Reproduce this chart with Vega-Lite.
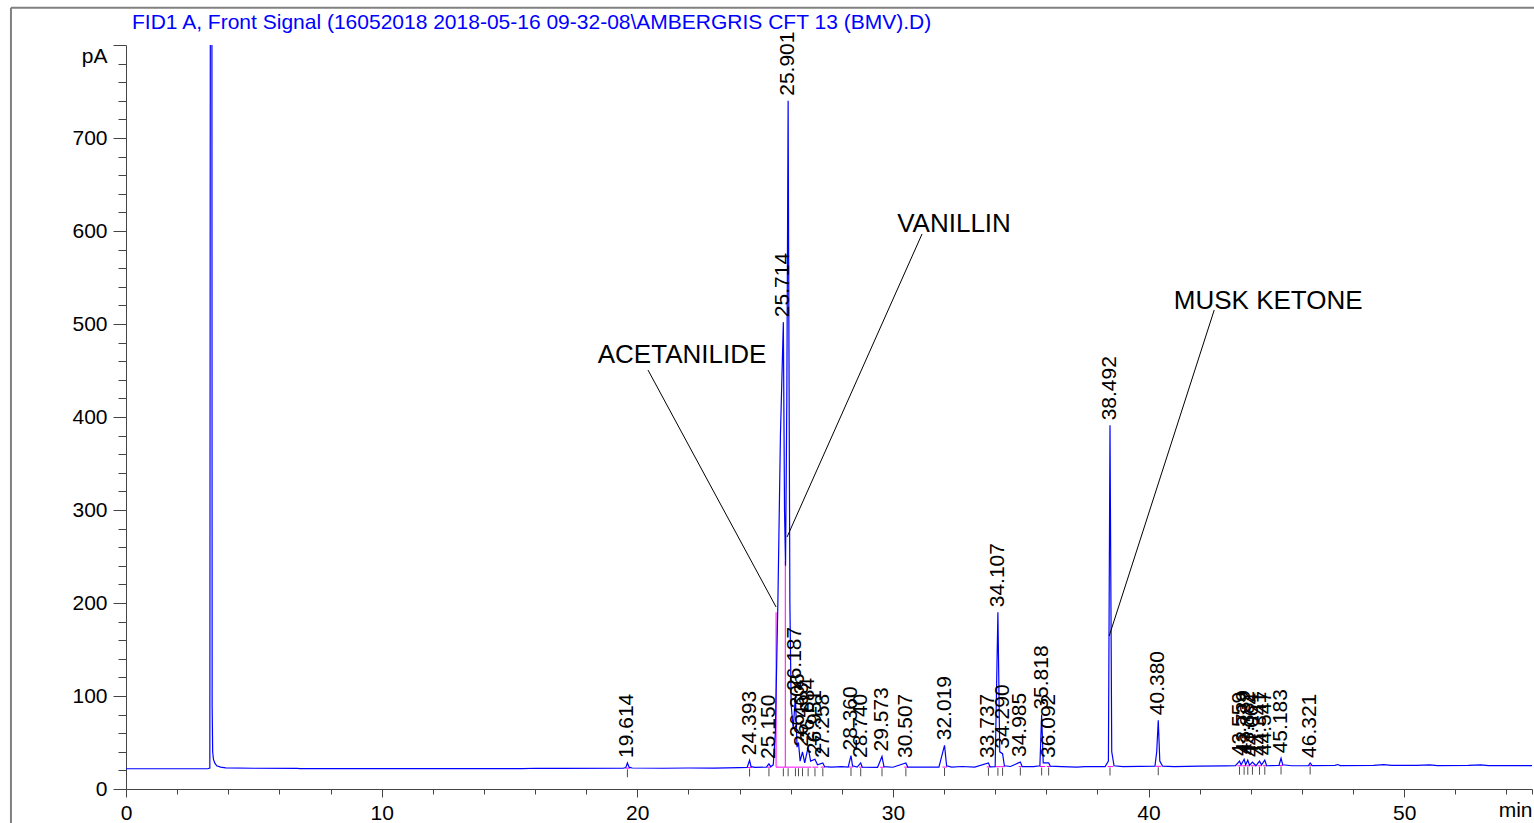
{
  "$schema": "https://vega.github.io/schema/vega-lite/v6.json",
  "autosize": {"type": "none"},
  "width": 1406,
  "height": 744,
  "padding": {"left": 126, "top": 45, "right": 2, "bottom": 34},
  "background": "white",
  "title": {
    "text": "FID1 A, Front Signal (16052018 2018-05-16 09-32-08\\AMBERGRIS CFT 13 (BMV).D)",
    "anchor": "start", "frame": "group", "dx": 6, "offset": 0, "dy": 47, "baseline": "bottom",
    "font": "Liberation Sans", "fontSize": 21, "fontWeight": "normal", "color": "#0000ff"
  },
  "config": {
    "view": {"stroke": null},
    "axis": {
      "grid": false, "domainColor": "#444444", "tickColor": "#444444", "domainWidth": 1, "tickWidth": 1,
      "labelFont": "Liberation Sans", "labelFontSize": 21, "labelColor": "#000000",
      "labelOverlap": false, "labelFlush": false, "labelBound": false, "title": null
    },
    "text": {"font": "Liberation Sans"}
  },
  "datasets": {
    "signal": [
      {"t": 0, "v": 21.8}, {"t": 3.2, "v": 21.8}, {"t": 3.28, "v": 22.5}, {"t": 3.30, "v": 900},
      {"t": 3.36, "v": 900}, {"t": 3.37, "v": 90}, {"t": 3.39, "v": 40}, {"t": 3.42, "v": 32}, {"t": 3.47, "v": 28},
      {"t": 3.55, "v": 25}, {"t": 3.7, "v": 23.5}, {"t": 3.9, "v": 22.8}, {"t": 5, "v": 22.3}, {"t": 6.7, "v": 22.2},
      {"t": 6.8, "v": 21.9}, {"t": 10, "v": 21.9}, {"t": 15.5, "v": 22.0}, {"t": 16, "v": 22.3}, {"t": 17, "v": 22.1},
      {"t": 19.45, "v": 22.3}, {"t": 19.55, "v": 23}, {"t": 19.614, "v": 28}, {"t": 19.68, "v": 23.5}, {"t": 19.8, "v": 22.6},
      {"t": 21, "v": 22.3}, {"t": 22, "v": 22.6}, {"t": 23, "v": 22.4}, {"t": 24.0, "v": 23}, {"t": 24.3, "v": 23.2},
      {"t": 24.393, "v": 31}, {"t": 24.45, "v": 24}, {"t": 24.6, "v": 23.2}, {"t": 25.05, "v": 23.5}, {"t": 25.15, "v": 27},
      {"t": 25.22, "v": 24}, {"t": 25.32, "v": 26}, {"t": 25.4, "v": 60}, {"t": 25.5, "v": 200}, {"t": 25.6, "v": 380},
      {"t": 25.714, "v": 502}, {"t": 25.76, "v": 300}, {"t": 25.8, "v": 240}, {"t": 25.85, "v": 420}, {"t": 25.901, "v": 740},
      {"t": 25.93, "v": 500}, {"t": 25.97, "v": 200}, {"t": 26.02, "v": 90}, {"t": 26.1, "v": 65}, {"t": 26.187, "v": 100},
      {"t": 26.25, "v": 45}, {"t": 26.306, "v": 50}, {"t": 26.37, "v": 30}, {"t": 26.463, "v": 40}, {"t": 26.55, "v": 28},
      {"t": 26.684, "v": 45}, {"t": 26.78, "v": 30}, {"t": 26.951, "v": 32}, {"t": 27.05, "v": 26}, {"t": 27.258, "v": 28},
      {"t": 27.33, "v": 24}, {"t": 27.6, "v": 23.5}, {"t": 28.0, "v": 24}, {"t": 28.25, "v": 23.5}, {"t": 28.36, "v": 36},
      {"t": 28.42, "v": 25}, {"t": 28.6, "v": 23.5}, {"t": 28.74, "v": 28}, {"t": 28.8, "v": 23.5}, {"t": 29.4, "v": 23.3},
      {"t": 29.573, "v": 35}, {"t": 29.65, "v": 24}, {"t": 30.0, "v": 23.4}, {"t": 30.507, "v": 28}, {"t": 30.58, "v": 23.6},
      {"t": 31.8, "v": 23.5}, {"t": 32.019, "v": 47}, {"t": 32.1, "v": 25}, {"t": 32.3, "v": 23.5}, {"t": 32.7, "v": 24.2},
      {"t": 33.2, "v": 23.6}, {"t": 33.737, "v": 28}, {"t": 33.8, "v": 23.8}, {"t": 34.0, "v": 24}, {"t": 34.107, "v": 190},
      {"t": 34.18, "v": 40}, {"t": 34.29, "v": 38}, {"t": 34.36, "v": 25}, {"t": 34.6, "v": 24.2}, {"t": 34.985, "v": 29},
      {"t": 35.06, "v": 24}, {"t": 35.5, "v": 24}, {"t": 35.75, "v": 25}, {"t": 35.818, "v": 80}, {"t": 35.88, "v": 28},
      {"t": 36.092, "v": 28}, {"t": 36.16, "v": 24.5}, {"t": 36.6, "v": 24}, {"t": 37.2, "v": 23.5}, {"t": 37.5, "v": 24},
      {"t": 38.3, "v": 24}, {"t": 38.43, "v": 30}, {"t": 38.492, "v": 391}, {"t": 38.56, "v": 40}, {"t": 38.65, "v": 25},
      {"t": 39, "v": 24}, {"t": 40.25, "v": 24.5}, {"t": 40.32, "v": 40}, {"t": 40.38, "v": 74}, {"t": 40.44, "v": 30},
      {"t": 40.55, "v": 24.5}, {"t": 41, "v": 24}, {"t": 42, "v": 24.5}, {"t": 43.0, "v": 24.8}, {"t": 43.4, "v": 25},
      {"t": 43.559, "v": 30}, {"t": 43.62, "v": 26}, {"t": 43.739, "v": 32}, {"t": 43.8, "v": 26}, {"t": 43.882, "v": 31},
      {"t": 43.95, "v": 25.5}, {"t": 44.064, "v": 29}, {"t": 44.2, "v": 25}, {"t": 44.341, "v": 30}, {"t": 44.42, "v": 26},
      {"t": 44.547, "v": 31}, {"t": 44.62, "v": 25}, {"t": 45.1, "v": 25.3}, {"t": 45.183, "v": 33}, {"t": 45.25, "v": 26},
      {"t": 45.6, "v": 25}, {"t": 46.25, "v": 25}, {"t": 46.321, "v": 28}, {"t": 46.4, "v": 25.2}, {"t": 47.3, "v": 25.4},
      {"t": 47.4, "v": 26.3}, {"t": 47.5, "v": 25.2}, {"t": 48.8, "v": 25.5}, {"t": 49.2, "v": 26.3}, {"t": 49.5, "v": 25.4},
      {"t": 50.5, "v": 25.4}, {"t": 51.0, "v": 26}, {"t": 51.3, "v": 25.2}, {"t": 52.5, "v": 25.3}, {"t": 53.0, "v": 25.9},
      {"t": 53.3, "v": 25.1}, {"t": 55, "v": 25.2}
    ],
    "peaks": [
      {"rt": 19.614, "h": 28, "base": 22.4, "start": 19.54, "end": 19.72},
      {"rt": 24.393, "h": 31, "base": 23.1, "start": 24.32, "end": 24.48},
      {"rt": 25.150, "h": 27, "base": 23.4, "start": 25.08, "end": 25.24},
      {"rt": 25.714, "h": 502, "base": 23.5, "start": 25.43, "end": 25.79},
      {"rt": 25.901, "h": 740, "base": 23.5, "start": 25.79, "end": 26.1},
      {"rt": 26.187, "h": 100, "base": 23.5, "start": 26.1, "end": 26.25},
      {"rt": 26.306, "h": 50, "base": 23.5, "start": 26.25, "end": 26.4},
      {"rt": 26.463, "h": 40, "base": 23.5, "start": 26.4, "end": 26.58},
      {"rt": 26.684, "h": 45, "base": 23.5, "start": 26.58, "end": 26.8},
      {"rt": 26.951, "h": 32, "base": 23.5, "start": 26.85, "end": 27.08},
      {"rt": 27.258, "h": 28, "base": 23.5, "start": 27.18, "end": 27.34},
      {"rt": 28.360, "h": 36, "base": 23.6, "start": 28.28, "end": 28.45},
      {"rt": 28.740, "h": 28, "base": 23.5, "start": 28.68, "end": 28.82},
      {"rt": 29.573, "h": 35, "base": 23.4, "start": 29.5, "end": 29.67},
      {"rt": 30.507, "h": 28, "base": 23.5, "start": 30.44, "end": 30.6},
      {"rt": 32.019, "h": 47, "base": 23.6, "start": 31.94, "end": 32.12},
      {"rt": 33.737, "h": 28, "base": 23.8, "start": 33.67, "end": 33.82},
      {"rt": 34.107, "h": 190, "base": 24, "start": 34.02, "end": 34.22},
      {"rt": 34.290, "h": 38, "base": 24, "start": 34.22, "end": 34.38},
      {"rt": 34.985, "h": 29, "base": 24.1, "start": 34.92, "end": 35.07},
      {"rt": 35.818, "h": 80, "base": 24.2, "start": 35.74, "end": 35.95},
      {"rt": 36.092, "h": 28, "base": 24.2, "start": 36.02, "end": 36.18},
      {"rt": 38.492, "h": 391, "base": 24.1, "start": 38.4, "end": 38.62},
      {"rt": 40.380, "h": 74, "base": 24.4, "start": 40.28, "end": 40.5},
      {"rt": 43.559, "h": 30, "base": 25, "start": 43.48, "end": 43.64},
      {"rt": 43.739, "h": 32, "base": 25, "start": 43.66, "end": 43.82},
      {"rt": 43.882, "h": 31, "base": 25, "start": 43.83, "end": 43.96},
      {"rt": 44.064, "h": 29, "base": 25, "start": 44.0, "end": 44.16},
      {"rt": 44.341, "h": 30, "base": 25, "start": 44.27, "end": 44.43},
      {"rt": 44.547, "h": 31, "base": 25, "start": 44.47, "end": 44.63},
      {"rt": 45.183, "h": 33, "base": 25.2, "start": 45.1, "end": 45.27},
      {"rt": 46.321, "h": 28, "base": 25.2, "start": 46.24, "end": 46.41}
    ],
    "drops": [
      {"t": 25.43, "lo": 23.5, "hi": 190},
      {"t": 25.79, "lo": 23.5, "hi": 245}
    ],
    "notes": [
      {"name": "ACETANILIDE", "tx": 21.75, "ty": 466.7, "x1": 20.42, "y1": 450.5, "x2": 25.43, "y2": 195.7},
      {"name": "VANILLIN", "tx": 32.39, "ty": 607.5, "x1": 31.14, "y1": 596.8, "x2": 25.86, "y2": 271},
      {"name": "MUSK KETONE", "tx": 44.68, "ty": 524.7, "x1": 42.57, "y1": 515.1, "x2": 38.46, "y2": 164.5}
    ],
    "frame": [
      {"x1": -4.5, "x2": -4.5, "y1": 840, "y2": -60},
      {"x1": -4.5, "x2": 58, "y1": 840, "y2": 840}
    ]
  },
  "layer": [
    {
      "data": {"name": "peaks"},
      "mark": {"type": "rule", "color": "#ff00ff", "strokeWidth": 1},
      "encoding": {
        "x": {"field": "start", "type": "quantitative", "scale": {"domain": [0, 55], "nice": false, "zero": false},
          "axis": {
            "values": [0,2,4,6,8,10,12,14,16,18,20,22,24,26,28,30,32,34,36,38,40,42,44,46,48,50,52,54,55],
            "tickCount": 100,
            "labelExpr": "datum.value == 55 ? 'min' : (datum.value % 10 == 0 ? format(datum.value, 'd') : '')",
            "labelAlign": {"condition": {"test": "datum.value == 55", "value": "right"}, "value": "center"},
            "tickSize": {"condition": {"test": "datum.value % 10 == 0", "value": 8}, "value": 5},
            "labelPadding": 5, "labelOverlap": false
          }},
        "x2": {"field": "end"},
        "y": {"field": "base", "type": "quantitative", "scale": {"domain": [0, 800], "nice": false, "zero": false},
          "axis": {
            "values": [0,20,40,60,80,100,120,140,160,180,200,220,240,260,280,300,320,340,360,380,400,420,440,460,480,500,520,540,560,580,600,620,640,660,680,700,720,740,760,780,800],
            "tickCount": 100,
            "labelExpr": "datum.value == 800 ? 'pA' : (datum.value % 100 == 0 ? format(datum.value, 'd') : '')",
            "labelBaseline": {"condition": {"test": "datum.value == 800", "value": "top"}, "value": "middle"},
            "tickSize": {"condition": {"test": "datum.value % 100 == 0", "value": 13}, "value": 8},
            "labelPadding": 6, "labelOverlap": false
          }}
      }
    },
    {
      "data": {"name": "drops"},
      "mark": {"type": "rule", "color": "#ff00ff", "strokeWidth": 1},
      "encoding": {
        "x": {"field": "t", "type": "quantitative"},
        "y": {"field": "lo", "type": "quantitative"},
        "y2": {"field": "hi"}
      }
    },
    {
      "data": {"name": "signal"},
      "mark": {"type": "line", "color": "#0000ff", "strokeWidth": 1.2, "clip": true, "interpolate": "linear"},
      "encoding": {
        "x": {"field": "t", "type": "quantitative"},
        "y": {"field": "v", "type": "quantitative"}
      }
    },
    {
      "data": {"name": "peaks"},
      "mark": {"type": "tick", "orient": "vertical", "color": "#000000", "size": 8, "thickness": 1, "yOffset": 5},
      "encoding": {
        "x": {"field": "rt", "type": "quantitative"},
        "y": {"field": "base", "type": "quantitative"}
      }
    },
    {
      "data": {"name": "peaks"},
      "mark": {"type": "text", "angle": 270, "align": "left", "baseline": "middle", "dx": 5, "fontSize": 21, "color": "#000000"},
      "encoding": {
        "x": {"field": "rt", "type": "quantitative"},
        "y": {"field": "h", "type": "quantitative"},
        "text": {"field": "rt", "type": "quantitative", "format": ".3f"}
      }
    },
    {
      "data": {"name": "notes"},
      "mark": {"type": "rule", "color": "#000000", "strokeWidth": 1},
      "encoding": {
        "x": {"field": "x1", "type": "quantitative"},
        "y": {"field": "y1", "type": "quantitative"},
        "x2": {"field": "x2"},
        "y2": {"field": "y2"}
      }
    },
    {
      "data": {"name": "notes"},
      "mark": {"type": "text", "align": "center", "baseline": "middle", "fontSize": 26, "color": "#000000"},
      "encoding": {
        "x": {"field": "tx", "type": "quantitative"},
        "y": {"field": "ty", "type": "quantitative"},
        "text": {"field": "name", "type": "nominal"}
      }
    },
    {
      "data": {"name": "frame"},
      "mark": {"type": "rule", "color": "#808080", "strokeWidth": 2},
      "encoding": {
        "x": {"field": "x1", "type": "quantitative"},
        "x2": {"field": "x2"},
        "y": {"field": "y1", "type": "quantitative"},
        "y2": {"field": "y2"}
      }
    }
  ]
}
